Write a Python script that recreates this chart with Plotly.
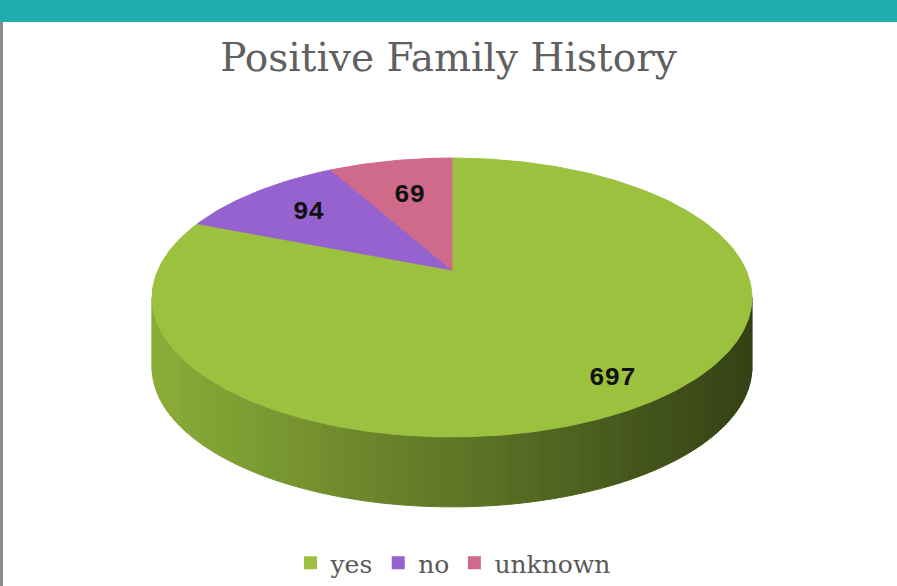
import numpy as np
import plotly.graph_objects as go

# ---- data ----
categories = ["yes", "no", "unknown"]
values = [697, 94, 69]
title_text = "Positive Family History"

# ---- style ----
colors = ["#9bc13f", "#9562d0", "#cf6a8a"]
label_r = [0.84, 0.71, 0.65]
CX, CY = 452.0, 270.0          # pie apex (pixels)
A, B, K = 294.0, 134.0, 0.197  # perspective ellipse params
DEPTH = 70.0
W, H = 897, 586


def proj(r, th):
    u = r * np.sin(th)
    v = r * np.cos(th)
    den = 1 + K * v
    return CX + A * u / den, CY - B * v / den


def hex2rgb(h):
    h = h.lstrip("#")
    return tuple(int(h[i:i + 2], 16) for i in (0, 2, 4))


total = float(sum(values))
cum = np.concatenate([[0.0], np.cumsum(values)]) / total * 2 * np.pi

fig = go.Figure()

# ---- side (visible front wall) ----
thR = np.arccos(-K)
thL = 2 * np.pi - thR
xr_min = proj(1, thL)[0]
xr_max = proj(1, thR)[0]
for i, cat in enumerate(categories):
    a0 = max(cum[i], thR)
    a1 = min(cum[i + 1], thL)
    if a1 <= a0:
        continue
    n = max(2, int(90 * (a1 - a0) / (thL - thR)))
    edges = np.linspace(a0, a1, n + 1)
    base = np.array(hex2rgb(colors[i]), dtype=float)
    for j in range(n):
        ts = np.linspace(edges[j], edges[j + 1], 4)
        xt, yt = proj(1, ts)
        xs = list(xt) + list(xt[::-1]) + [xt[0]]
        ys = list(yt) + list(yt[::-1] + DEPTH) + [yt[0]]
        xm = float(np.mean(xt))
        f = (xm - xr_min) / (xr_max - xr_min)
        shade = 0.90 - 0.56 * f
        c = base * shade
        col = "rgb(%d,%d,%d)" % tuple(np.clip(c, 0, 255).astype(int))
        fig.add_trace(go.Scatter(x=xs, y=ys, fill="toself", fillcolor=col,
                                 mode="lines", line=dict(color=col, width=1),
                                 hoverinfo="skip", showlegend=False))

# ---- top face ----
for i, cat in enumerate(categories):
    ts = np.linspace(cum[i], cum[i + 1], max(3, int(400 * (cum[i + 1] - cum[i]) / (2 * np.pi))))
    xa, ya = proj(1, ts)
    xs = [CX] + list(xa) + [CX]
    ys = [CY] + list(ya) + [CY]
    fig.add_trace(go.Scatter(x=xs, y=ys, fill="toself", fillcolor=colors[i],
                             mode="lines", line=dict(color=colors[i], width=1),
                             hoverinfo="text", text="%s: %d" % (cat, values[i]),
                             showlegend=False))

# ---- value labels ----
for i, cat in enumerate(categories):
    mid = 0.5 * (cum[i] + cum[i + 1])
    lx, ly = proj(label_r[i], mid)
    fig.add_annotation(x=float(lx), y=float(ly), text="<b>%d</b>" % values[i], showarrow=False,
                       font=dict(family="Liberation Mono", size=26, color="#111111"))

# ---- legend entries ----
for i, cat in enumerate(categories):
    fig.add_trace(go.Scatter(x=[None], y=[None], mode="markers", name=cat,
                             marker=dict(symbol="square", size=13, color=colors[i])))

fig.update_layout(
    width=W, height=H, autosize=False,
    margin=dict(l=0, r=0, t=0, b=0),
    paper_bgcolor="white", plot_bgcolor="white",
    xaxis=dict(range=[0, W], visible=False, fixedrange=True),
    yaxis=dict(range=[H, 0], visible=False, fixedrange=True),
    title=dict(text=title_text, x=0.5, xanchor="center", y=1 - 57 / H, yanchor="middle",
               font=dict(family="DejaVu Serif", size=39, color="#606060")),
    legend=dict(orientation="h", x=0.505, xanchor="center", y=0.0, yanchor="bottom",
                font=dict(family="DejaVu Serif", size=25, color="#595959"),
                bgcolor="rgba(0,0,0,0)"),
    shapes=[
        dict(type="rect", xref="paper", yref="paper", x0=0, x1=1, y0=1 - 22 / H, y1=1,
             fillcolor="#20adad", line=dict(width=0), layer="above"),
        dict(type="rect", xref="x", yref="y", x0=0, x1=3, y0=22, y1=H,
             fillcolor="#8c8c8c", line=dict(width=0), layer="above"),
    ],
)

fig.write_html("out.html", config={"displayModeBar": False},
               post_script="document.body.style.margin='0';document.body.style.overflow='hidden';")
